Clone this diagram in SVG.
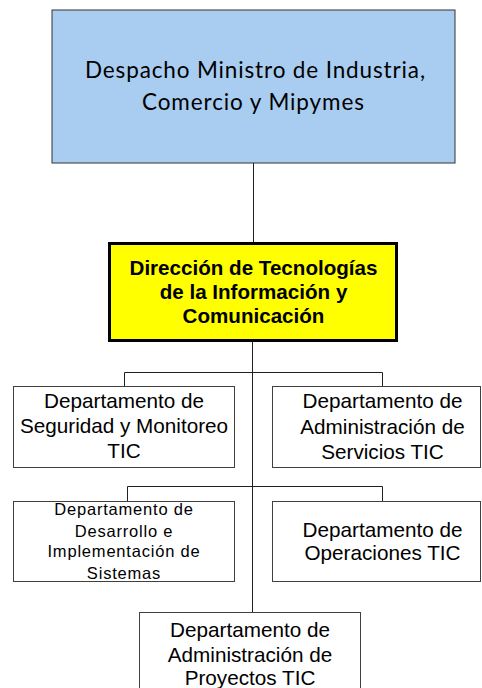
<svg xmlns="http://www.w3.org/2000/svg" width="482" height="688" viewBox="0 0 482 688">
<style>
.dept{fill:#ffffff;stroke:#404040;stroke-width:1}
.t{font-family:"Liberation Sans",Arial,sans-serif;font-size:20.7px;fill:#000;text-anchor:middle}
.ts{font-family:"Liberation Sans",Arial,sans-serif;font-size:16.5px;letter-spacing:0.8px;fill:#000;text-anchor:middle}
.tb{font-family:"Liberation Sans",Arial,sans-serif;font-size:20.6px;font-weight:bold;fill:#000;text-anchor:middle}
.tc{font-family:Lato,"Open Sans",sans-serif;font-size:22.5px;fill:#000;text-anchor:middle}
.c{fill:none;stroke:#202020;stroke-width:1}
</style>
<rect width="482" height="688" fill="#ffffff"/>
<g id="connectors">
<line class="c" x1="253.5" y1="163" x2="253.5" y2="242" stroke-width="1.5"/>
<line class="c" x1="252.5" y1="342" x2="252.5" y2="612"/>
<polyline class="c" points="124.5,386 124.5,372.5 382.5,372.5 382.5,386"/>
<polyline class="c" points="127.5,501 127.5,486.5 382.5,486.5 382.5,501"/>
</g>
<g id="despacho">
<rect x="52" y="10" width="403" height="153" fill="#a9cdf1" stroke="#333333" stroke-width="1"/>
<text class="tc" x="255" y="78" textLength="340" lengthAdjust="spacing">Despacho Ministro de Industria,</text>
<text class="tc" x="253" y="110" textLength="222" lengthAdjust="spacing">Comercio y Mipymes</text>
</g>
<g id="direccion">
<rect x="109.5" y="243.5" width="287" height="97" fill="#ffff00" stroke="#000000" stroke-width="3"/>
<text class="tb" x="253.5" y="275">Dirección de Tecnologías</text>
<text class="tb" x="253.5" y="299">de la Información y</text>
<text class="tb" x="253.5" y="323">Comunicación</text>
</g>
<g id="seguridad">
<rect class="dept" x="13.5" y="386.5" width="221" height="81"/>
<text class="t" x="124" y="408">Departamento de</text>
<text class="t" x="124" y="433">Seguridad y Monitoreo</text>
<text class="t" x="124" y="458">TIC</text>
</g>
<g id="servicios">
<rect class="dept" x="272.5" y="386.5" width="208" height="81"/>
<text class="t" x="382.5" y="408">Departamento de</text>
<text class="t" x="382.5" y="434">Administración de</text>
<text class="t" x="382.5" y="459">Servicios TIC</text>
</g>
<g id="desarrollo">
<rect class="dept" x="13.5" y="501.5" width="221" height="80"/>
<text class="ts" x="124" y="515">Departamento de</text>
<text class="ts" x="124" y="537">Desarrollo e</text>
<text class="ts" x="124" y="557">Implementación de</text>
<text class="ts" x="124" y="579">Sistemas</text>
</g>
<g id="operaciones">
<rect class="dept" x="272.5" y="501.5" width="208" height="80"/>
<text class="t" x="382.5" y="537">Departamento de</text>
<text class="t" x="382.5" y="560">Operaciones TIC</text>
</g>
<g id="proyectos">
<rect class="dept" x="139.5" y="612.5" width="221" height="80"/>
<text class="t" x="250" y="637">Departamento de</text>
<text class="t" x="250" y="662">Administración de</text>
<text class="t" x="250" y="685">Proyectos TIC</text>
</g>
</svg>
